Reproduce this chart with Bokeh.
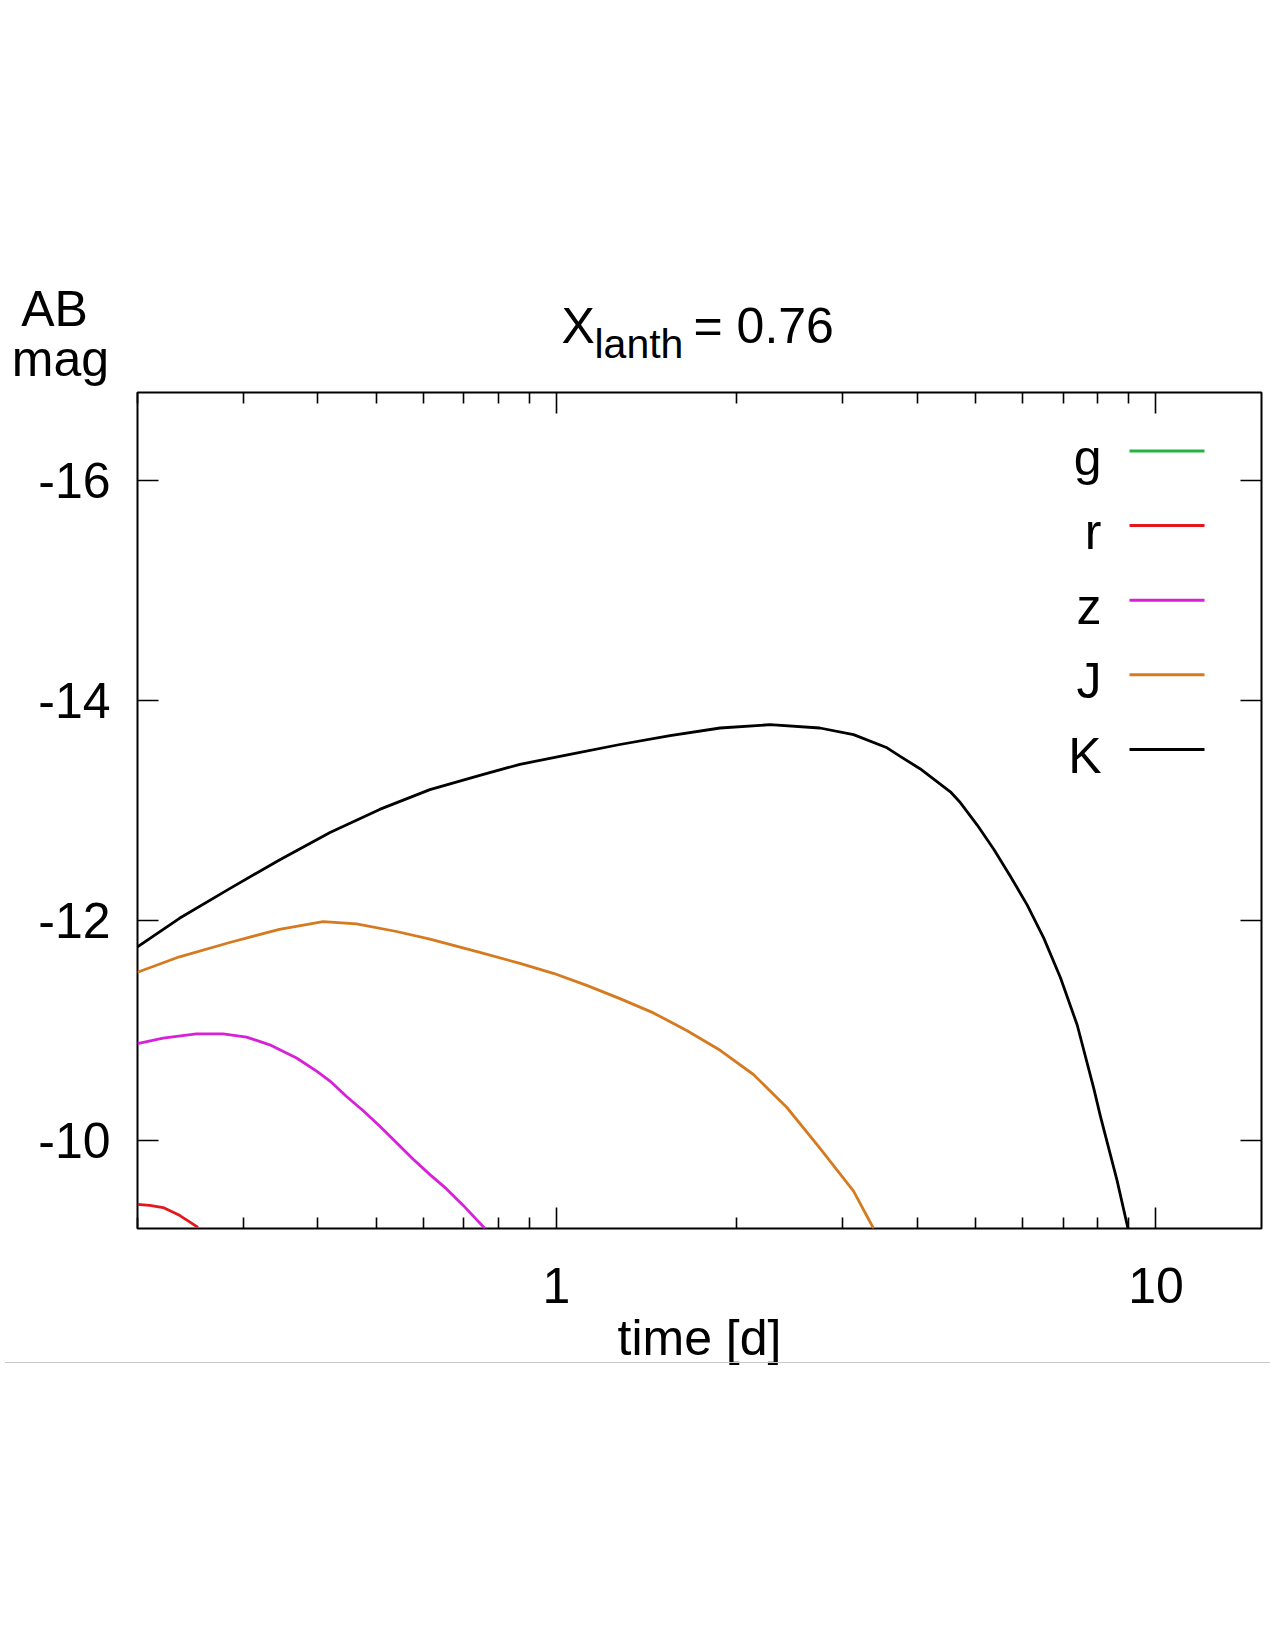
from bokeh.plotting import figure
from bokeh.models import Range1d, FixedTicker, LogAxis, LinearAxis, Label, Arrow, Div
from bokeh.embed import file_html
from bokeh.resources import INLINE

# ---------------- data ----------------
series_names = ["g", "r", "z", "J", "K"]
series_colors = ["#22b343", "#e4161c", "#d820d8", "#d67a1f", "#000000"]

g_time = []
g_mag = []

r_time = [0.2, 0.2096, 0.2207, 0.235, 0.2443, 0.2523]
r_mag = [-9.42, -9.41, -9.39, -9.32, -9.26, -9.21]

z_time = [0.2, 0.2207, 0.2507, 0.2778, 0.304, 0.3324, 0.3684, 0.398, 0.419, 0.4464,
          0.476, 0.5074, 0.541, 0.5767, 0.615, 0.6556, 0.699, 0.7596]
z_mag = [-10.88, -10.93, -10.97, -10.97, -10.94, -10.87, -10.75, -10.63, -10.54, -10.40,
         -10.27, -10.13, -9.98, -9.83, -9.69, -9.56, -9.41, -9.20]

J_time = [0.2, 0.235, 0.285, 0.345, 0.408, 0.4638, 0.541, 0.615, 0.745, 0.869, 0.988,
          1.123, 1.276, 1.451, 1.649, 1.875, 2.131, 2.423, 2.75, 3.13, 3.38]
J_mag = [-11.53, -11.67, -11.80, -11.92, -11.99, -11.97, -11.90, -11.83, -11.71, -11.61, -11.52,
         -11.41, -11.29, -11.16, -11.00, -10.82, -10.60, -10.30, -9.93, -9.54, -9.20]

K_time = [0.2, 0.235, 0.285, 0.345, 0.419, 0.507, 0.615, 0.745, 0.869, 1.053, 1.276, 1.547,
          1.875, 2.27, 2.75, 3.13, 3.56, 3.75, 4.04, 4.54, 4.72, 5.03, 5.36, 5.72, 6.10,
          6.50, 6.93, 7.39, 7.87, 8.08, 8.61, 9.06]
K_mag = [-11.76, -12.02, -12.29, -12.55, -12.80, -13.01, -13.19, -13.32, -13.42, -13.51, -13.60, -13.68,
         -13.75, -13.78, -13.75, -13.69, -13.57, -13.49, -13.38, -13.17, -13.07, -12.87, -12.65, -12.40,
         -12.14, -11.84, -11.48, -11.05, -10.48, -10.22, -9.64, -9.11]

series_time = [g_time, r_time, z_time, J_time, K_time]
series_mag = [g_mag, r_mag, z_mag, J_mag, K_mag]

x_major_ticks = [1, 10]
x_minor_ticks = [0.2, 0.3, 0.4, 0.5, 0.6, 0.7, 0.8, 0.9, 2, 3, 4, 5, 6, 7, 8, 9]
x_tick_labels = {1: "1", 10: "10"}
y_major_ticks = [-16, -14, -12, -10]
y_tick_labels = {-16: "-16", -14: "-14", -12: "-12", -10: "-10"}

title_main = "X"
title_sub = "lanth"
title_rest = "= 0.76"
y_label_lines = ["AB", "mag"]
x_label = "time [d]"

FONT = "Liberation Sans"
FS = "50px"
FS_SUB = "41px"

# ---------------- header (title and y-axis caption) ----------------
HEADER_H = 390
head = figure(width=1275, height=HEADER_H, x_range=Range1d(0, 1275), y_range=Range1d(HEADER_H, 0),
              output_backend="svg", toolbar_location=None, title=None,
              x_axis_location=None, y_axis_location=None, min_border=0)
head.grid.visible = False
head.outline_line_color = None


def head_label(x, y, text, align, size=FS):
    head.add_layout(Label(x=x, y=y, text=text, text_align=align, text_baseline="alphabetic",
                          text_font=FONT, text_font_size=size, text_color="black"))


head_label(54, 308.5, y_label_lines[0], "center")
head_label(60, 358.5, y_label_lines[1], "center")
head_label(561, 325.5, title_main, "left")
head_label(594, 343.5, title_sub, "left", FS_SUB)
head_label(693, 325.5, title_rest, "left")

# ---------------- main plot ----------------
BOTTOM_BORDER = 145
p = figure(width=1275, height=2 + 836 + BOTTOM_BORDER, x_axis_type="log",
           x_range=Range1d(0.2, 15), y_range=Range1d(-9.2, -16.8),
           output_backend="svg", toolbar_location=None, title=None,
           min_border_left=137, min_border_right=14,
           min_border_top=2, min_border_bottom=BOTTOM_BORDER)
p.grid.visible = False
p.outline_line_color = "black"
p.outline_line_width = 2
p.background_fill_color = "white"
p.border_fill_color = None


def style_axis(ax):
    ax.axis_line_color = None
    ax.major_tick_in = 21
    ax.major_tick_out = 0
    ax.minor_tick_in = 11
    ax.minor_tick_out = 0
    ax.major_tick_line_color = "black"
    ax.minor_tick_line_color = "black"
    ax.major_tick_line_width = 1.6
    ax.minor_tick_line_width = 1.6
    ax.major_label_text_font = FONT
    ax.major_label_text_font_size = FS
    ax.major_label_text_color = "black"


xb = p.xaxis[0]
xb.ticker = FixedTicker(ticks=x_major_ticks, minor_ticks=x_minor_ticks)
xb.major_label_overrides = x_tick_labels
style_axis(xb)
xb.major_label_standoff = 39
xb.axis_label = x_label
xb.axis_label_text_font = FONT
xb.axis_label_text_font_size = FS
xb.axis_label_text_font_style = "normal"
xb.axis_label_text_color = "black"
xb.axis_label_standoff = 4

yl = p.yaxis[0]
yl.ticker = FixedTicker(ticks=y_major_ticks, minor_ticks=[])
yl.major_label_overrides = y_tick_labels
style_axis(yl)
yl.major_label_standoff = 27

xt = LogAxis(ticker=FixedTicker(ticks=x_major_ticks, minor_ticks=x_minor_ticks),
             major_label_overrides={t: "" for t in x_major_ticks})
style_axis(xt)
xt.major_label_standoff = 0
xt.major_label_text_font_size = "1px"
p.add_layout(xt, "above")

yr = LinearAxis(ticker=FixedTicker(ticks=y_major_ticks, minor_ticks=[]),
                major_label_overrides={t: "" for t in y_major_ticks})
style_axis(yr)
yr.major_label_standoff = 0
yr.major_label_text_font_size = "1px"
p.add_layout(yr, "right")

# ---------------- curves ----------------
for t, m, c in zip(series_time, series_mag, series_colors):
    p.line(t, m, line_color=c, line_width=2.8, line_join="round")

# ---------------- legend (gnuplot style: text then sample) ----------------
legend_top = 777.5
legend_step = 74.6
for i, (name, c) in enumerate(zip(series_names, series_colors)):
    ly = legend_top - i * legend_step
    p.add_layout(Arrow(end=None, start=None, x_start=992, y_start=ly, x_end=1067, y_end=ly,
                       start_units="screen", end_units="screen",
                       line_color=c, line_width=3))
    p.add_layout(Label(x=964, y=ly - 6.5, x_units="screen", y_units="screen", text=name,
                       text_align="right", text_baseline="alphabetic",
                       text_font=FONT, text_font_size=FS, text_color="black"))

# thin grey page rule (page y = 1362); pulled up into the transparent bottom border
rule_offset = 1362 - (HEADER_H + 2 + 836 + BOTTOM_BORDER)
rule = Div(text="", width=1265, height=1, margin=(rule_offset, 0, 0, 5),
           styles={"background-color": "#c8c8c8"})

# separate roots so that the header frame is not aligned with the plot frame
open("out.html", "w").write(file_html([head, p, rule], INLINE))
